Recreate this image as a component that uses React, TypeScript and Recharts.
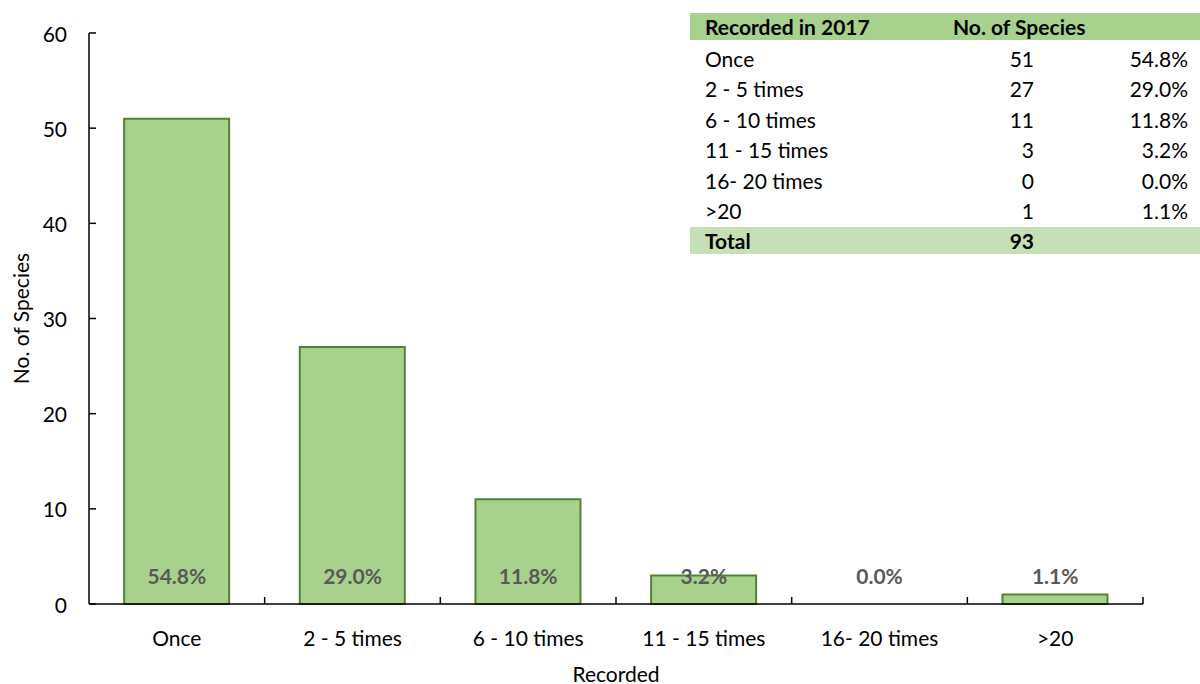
import React from "react";
import { BarChart, Bar, XAxis, YAxis, Label } from "recharts";

const categories = ["Once", "2 - 5 times", "6 - 10 times", "11 - 15 times", "16- 20 times", ">20"];
const counts = [51, 27, 11, 3, 0, 1];
const percents = ["54.8%", "29.0%", "11.8%", "3.2%", "0.0%", "1.1%"];
const totalSpecies = 93;
const yTicks = [0, 10, 20, 30, 40, 50, 60];

const data = categories.map((name, i) => ({ name, count: counts[i], pct: percents[i] }));

const FONT = "Lato, 'Open Sans', sans-serif";
const BAR_FILL = "#a9d18e";
const BAR_STROKE = "#548235";
const HEADER_BG = "#a9d18e";
const TOTAL_BG = "#c5e0b4";

function YTick(props: any) {
  const { x, y, payload } = props;
  return (
    <g>
      <line x1={x} y1={y} x2={x + 7} y2={y} stroke="#000" strokeWidth={1.5} />
      <text x={x - 22} y={y} textAnchor="end" dominantBaseline="central" fontSize={21} fontFamily={FONT} fill="#000">
        {payload.value}
      </text>
    </g>
  );
}

// category tick: boundary tick mark, category name below, percentage label inside the bar
function XTick(props: any) {
  const { x, y, payload, index } = props;
  const half = payload.offset || 87.8;
  const i = payload.index ?? index;
  return (
    <g>
      <line x1={x + half} y1={y} x2={x + half} y2={y - 7} stroke="#000" strokeWidth={1.5} />
      <text x={x} y={y + 33} textAnchor="middle" dominantBaseline="central" fontSize={21} fontFamily={FONT} fill="#000">
        {payload.value}
      </text>
      <text
        x={x}
        y={y - 29}
        textAnchor="middle"
        dominantBaseline="central"
        fontSize={21}
        fontWeight="bold"
        fontFamily={FONT}
        fill="#595959"
      >
        {percents[i]}
      </text>
    </g>
  );
}

function SummaryTable() {
  const cell: React.CSSProperties = { position: "absolute", whiteSpace: "nowrap" };
  return (
    <div style={{ position: "absolute", left: 690, top: 13, width: 510, fontFamily: FONT, fontSize: 21, color: "#000" }}>
      <div style={{ position: "absolute", left: 0, top: 0, width: 510, height: 27, background: HEADER_BG, fontWeight: "bold", lineHeight: "27px" }}>
        <span style={{ ...cell, left: 15 }}>Recorded in 2017</span>
        <span style={{ ...cell, left: 263 }}>No. of Species</span>
      </div>
      {categories.map((c, i) => (
        <div key={c} style={{ position: "absolute", left: 0, top: 31 + i * 30.4, width: 510, height: 30, lineHeight: "30px" }}>
          <span style={{ ...cell, left: 15 }}>{c}</span>
          <span style={{ ...cell, right: 166 }}>{counts[i]}</span>
          <span style={{ ...cell, right: 12 }}>{percents[i]}</span>
        </div>
      ))}
      <div style={{ position: "absolute", left: 0, top: 214, width: 510, height: 27, background: TOTAL_BG, fontWeight: "bold", lineHeight: "27px" }}>
        <span style={{ ...cell, left: 15 }}>Total</span>
        <span style={{ ...cell, right: 166 }}>{totalSpecies}</span>
      </div>
    </div>
  );
}

export default function App() {
  return (
    <div style={{ position: "absolute", left: 0, top: 0, width: 1200, height: 684, background: "#fff" }}>
      <BarChart
        width={1200}
        height={684}
        data={data}
        margin={{ top: 33, right: 57, bottom: 0, left: 0 }}
        barCategoryGap="20%"
      >
        <YAxis
          width={89}
          domain={[0, 60]}
          ticks={yTicks}
          tickSize={0}
          tickMargin={0}
          tickLine={false}
          axisLine={{ stroke: "#000", strokeWidth: 1.5 }}
          tick={<YTick />}
          interval={0}
        >
          <Label
            content={(p: any) => {
              const vb = p.viewBox;
              const cy = vb.y + vb.height / 2;
              return (
                <text x={20} y={cy} transform={`rotate(-90 20 ${cy})`} textAnchor="middle" dominantBaseline="central" fontSize={21} fontFamily={FONT} fill="#000">
                  No. of Species
                </text>
              );
            }}
          />
        </YAxis>
        <Bar dataKey="count" fill={BAR_FILL} stroke={BAR_STROKE} strokeWidth={2} isAnimationActive={false} />
        <XAxis
          dataKey="name"
          height={80}
          tickSize={0}
          tickMargin={0}
          tickLine={false}
          axisLine={{ stroke: "#000", strokeWidth: 1.5 }}
          tick={<XTick />}
          interval={0}
        >
          <Label
            content={(p: any) => {
              const vb = p.viewBox;
              return (
                <text x={vb.x + vb.width / 2} y={vb.y + 69} textAnchor="middle" dominantBaseline="central" fontSize={21} fontFamily={FONT} fill="#000">
                  Recorded
                </text>
              );
            }}
          />
        </XAxis>
      </BarChart>
      <SummaryTable />
    </div>
  );
}
